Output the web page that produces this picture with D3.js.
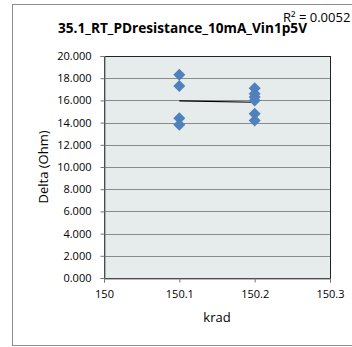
<!DOCTYPE html>
<html>
<head>
<meta charset="utf-8">
<script src="https://cdn.jsdelivr.net/npm/d3@7"></script>
<style>
  body { margin: 0; background: #fff; }
  svg text { font-family: "Open Sans", "Liberation Sans", sans-serif; fill: #000; }
</style>
</head>
<body>
<svg id="chart" width="352" height="347"></svg>
<script>
// data
const krad   = [150.1, 150.1, 150.1, 150.1, 150.2, 150.2, 150.2, 150.2, 150.2, 150.2]
const delta  = [18.3, 17.3, 14.4, 13.8, 17.1, 16.6, 16.3, 16.0, 14.8, 14.2]
const xTicks = [150, 150.1, 150.2, 150.3]
const yTicks = [0, 2, 4, 6, 8, 10, 12, 14, 16, 18, 20]
const title  = "35.1_RT_PDresistance_10mA_Vin1p5V"
const rLabel = "R² = 0.0052"

const svg = d3.select("#chart")

// outer chart frame
svg.append("rect")
  .attr("x", 12.5).attr("y", 4.5)
  .attr("width", 360).attr("height", 341)
  .attr("fill", "#fff").attr("stroke", "#8c8c8c")

const plot = {left: 104, right: 330, top: 56, bottom: 278}

const x = d3.scaleLinear().domain([150, 150.3]).range([plot.left, plot.right])
const y = d3.scaleLinear().domain([0, 20]).range([plot.bottom, plot.top])

// plot background
svg.append("rect")
  .attr("x", plot.left).attr("y", plot.top)
  .attr("width", plot.right - plot.left).attr("height", plot.bottom - plot.top)
  .attr("fill", "#e6ecec")

// gridlines
svg.append("g").selectAll("line")
  .data(yTicks.slice(1, -1))
  .join("line")
    .attr("x1", plot.left).attr("x2", plot.right)
    .attr("y1", d => Math.round(y(d)) + 0.5).attr("y2", d => Math.round(y(d)) + 0.5)
    .attr("stroke", "#8a8a8a").attr("stroke-width", 1)

// plot border
svg.append("rect")
  .attr("x", plot.left + 0.5).attr("y", plot.top + 0.5)
  .attr("width", plot.right - plot.left).attr("height", plot.bottom - plot.top)
  .attr("fill", "none").attr("stroke", "#222")

// axes
const yAxis = svg.append("g")
  .attr("transform", `translate(${plot.left + 0.5},0)`)
  .call(d3.axisLeft(y).tickValues(yTicks).tickFormat(d3.format(".3f")).tickSizeOuter(0).tickSize(4).tickPadding(9))
yAxis.select(".domain").attr("stroke", "#777")
yAxis.selectAll(".tick line").attr("stroke", "#777")
yAxis.selectAll("text").style("font-size", "11px")

const xAxis = svg.append("g")
  .attr("transform", `translate(0,${plot.bottom + 0.5})`)
  .call(d3.axisBottom(x).tickValues(xTicks).tickFormat(d => d3.format("")(+d.toFixed(1))).tickSizeOuter(0).tickSize(4).tickPadding(8))
xAxis.select(".domain").attr("stroke", "#777")
xAxis.selectAll(".tick line").attr("stroke", "#777")
xAxis.selectAll("text").style("font-size", "11px")

// linear trendline (least squares)
const mx = d3.mean(krad), my = d3.mean(delta)
let sxy = 0, sxx = 0
krad.forEach((k, i) => { sxy += (k - mx) * (delta[i] - my); sxx += (k - mx) ** 2 })
const slope = sxy / sxx, icpt = my - slope * mx
const xr = d3.extent(krad)
svg.append("line")
  .attr("x1", x(xr[0])).attr("y1", y(icpt + slope * xr[0]))
  .attr("x2", x(xr[1])).attr("y2", y(icpt + slope * xr[1]))
  .attr("stroke", "#000").attr("stroke-width", 1.2)

// diamond markers
svg.append("g").selectAll("path")
  .data(krad.map((k, i) => [k, delta[i]]))
  .join("path")
    .attr("transform", d => `translate(${x(d[0])},${y(d[1])})`)
    .attr("d", "M0,-6L6,0L0,6L-6,0Z")
    .attr("fill", "#4f81bd")

// titles
svg.append("text")
  .attr("x", 58).attr("y", 33)
  .attr("textLength", 249).attr("lengthAdjust", "spacingAndGlyphs")
  .style("font-size", "15px").style("font-weight", "bold")
  .text(title)

svg.append("text")
  .attr("x", 283).attr("y", 22)
  .style("font-size", "13px")
  .text(rLabel)

svg.append("text")
  .attr("transform", `translate(48,${(plot.top + plot.bottom) / 2}) rotate(-90)`)
  .attr("text-anchor", "middle")
  .style("font-size", "13px")
  .text("Delta (Ohm)")

svg.append("text")
  .attr("x", (plot.left + plot.right) / 2).attr("y", 322)
  .attr("text-anchor", "middle")
  .style("font-size", "13px")
  .text("krad")
</script>
</body>
</html>
